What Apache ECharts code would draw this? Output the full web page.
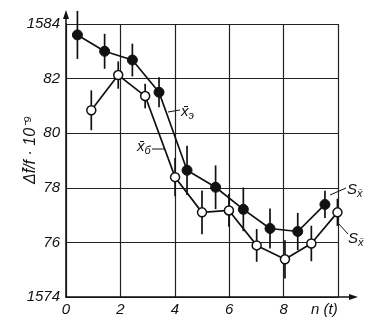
<!DOCTYPE html>
<html><head><meta charset="utf-8">
<script src="https://cdn.jsdelivr.net/npm/echarts@6/dist/echarts.min.js"></script>
<style>html,body{margin:0;padding:0;background:#fff}#c{width:375px;height:323px}</style>
</head><body><div id="c"></div>
<script>
// x̄э (filled circles)
var xE = [0.42, 1.42, 2.44, 3.42, 4.45, 5.5, 6.52, 7.5, 8.52, 9.52];
var yE = [1583.6, 1583.0, 1582.68, 1581.5, 1578.64, 1578.02, 1577.21, 1576.51, 1576.4, 1577.39];
var errE = [0.88, 0.64, 0.6, 0.55, 0.9, 0.8, 0.8, 0.73, 0.68, 0.5];
// x̄б (open circles)
var xB = [0.93, 1.92, 2.91, 4.01, 5.0, 5.99, 7.01, 8.05, 9.02, 9.98];
var yB = [1580.84, 1582.13, 1581.36, 1578.39, 1577.1, 1577.17, 1575.89, 1575.38, 1575.96, 1577.1];
var errB = [0.73, 0.5, 0.45, 0.7, 0.8, 0.6, 0.6, 0.7, 0.65, 0.5];
var yTicks = ['1574', '76', '78', '80', '82', '1584'];
var xTicks = ['0', '2', '4', '6', '8', ''];

function pts(xs, ys) { return xs.map(function (x, i) { return [x, ys[i]]; }); }
function errs(xs, ys, es) { return xs.map(function (x, i) { return [x, ys[i] - es[i], ys[i] + es[i]]; }); }

var chart = echarts.init(document.getElementById('c'));
var font = 'Liberation Sans';
function errRender(params, api) {
  var p1 = api.coord([api.value(0), api.value(1)]);
  var p2 = api.coord([api.value(0), api.value(2)]);
  return { type: 'line', shape: { x1: p1[0], y1: p1[1], x2: p2[0], y2: p2[1] }, style: { stroke: '#111', lineWidth: 1.7 } };
}
chart.setOption({
  animation: false,
  grid: { left: 66, right: 37, top: 24, bottom: 26 },
  xAxis: {
    type: 'value', min: 0, max: 10, interval: 2,
    axisLine: { lineStyle: { color: '#111', width: 1.5 } },
    axisTick: { show: false },
    axisLabel: { color: '#111', fontSize: 15, fontStyle: 'italic', fontFamily: font, margin: 5,
      formatter: function (v) { return xTicks[Math.round(v / 2)]; } },
    splitLine: { show: true, lineStyle: { color: '#222', width: 1.2 } }
  },
  yAxis: {
    type: 'value', min: 1574, max: 1584, interval: 2,
    axisLine: { show: true, lineStyle: { color: '#111', width: 1.5 } },
    axisTick: { show: false },
    axisLabel: { color: '#111', fontSize: 15, fontStyle: 'italic', fontFamily: font, margin: 6,
      formatter: function (v) { return yTicks[Math.round((v - 1574) / 2)]; } },
    splitLine: { show: true, lineStyle: { color: '#222', width: 1.2 } }
  },
  series: [
    { type: 'custom', renderItem: errRender, data: errs(xE, yE, errE), z: 1 },
    { type: 'custom', renderItem: errRender, data: errs(xB, yB, errB), z: 1 },
    { type: 'line', data: pts(xE, yE), symbol: 'circle', symbolSize: 10,
      lineStyle: { color: '#111', width: 1.7 }, itemStyle: { color: '#111', borderColor: '#111', borderWidth: 1 }, z: 3 },
    { type: 'line', data: pts(xB, yB), symbol: 'circle', symbolSize: 9,
      lineStyle: { color: '#111', width: 1.7 }, itemStyle: { color: '#fff', borderColor: '#111', borderWidth: 1.5 }, z: 3 }
  ],
  graphic: [
    // axis extensions with arrows
    { type: 'line', shape: { x1: 66, y1: 24, x2: 66, y2: 14 }, style: { stroke: '#111', lineWidth: 1.5 } },
    { type: 'polygon', shape: { points: [[66, 10], [63, 19], [69, 19]] }, style: { fill: '#111' } },
    { type: 'line', shape: { x1: 338, y1: 297, x2: 350, y2: 297 }, style: { stroke: '#111', lineWidth: 1.5 } },
    { type: 'polygon', shape: { points: [[358, 297], [349, 294], [349, 300]] }, style: { fill: '#111' } },
    // x axis name
    { type: 'text', x: 311, y: 302, style: { text: 'n (t)', font: 'italic 15px ' + font, fill: '#111' } },
    // y axis title
    { type: 'text', x: 23, y: 184, rotation: Math.PI / 2,
      style: { text: 'Δf̄/f · 10⁻⁹', font: 'italic 16px ' + font, fill: '#111' } },
    // labels with leaders
    { type: 'line', shape: { x1: 168, y1: 112, x2: 180, y2: 110 }, style: { stroke: '#111', lineWidth: 1 } },
    { type: 'text', x: 181, y: 102, style: { text: '{a|x̄}{s|э}', rich: { a: { font: 'italic 15px ' + font, fill: '#111' }, s: { font: 'italic 11px ' + font, fill: '#111', padding: [8, 0, 0, 0] } } } },
    { type: 'line', shape: { x1: 152, y1: 149, x2: 165, y2: 149 }, style: { stroke: '#111', lineWidth: 1 } },
    { type: 'text', x: 137, y: 137, style: { text: '{a|x̄}{s|б}', rich: { a: { font: 'italic 15px ' + font, fill: '#111' }, s: { font: 'italic 11px ' + font, fill: '#111', padding: [8, 0, 0, 0] } } } },
    { type: 'line', shape: { x1: 330, y1: 195, x2: 346, y2: 188 }, style: { stroke: '#111', lineWidth: 1 } },
    { type: 'text', x: 347, y: 180, style: { text: '{a|S}{s|x̄}', rich: { a: { font: 'italic 15px ' + font, fill: '#111' }, s: { font: 'italic 11px ' + font, fill: '#111', padding: [8, 0, 0, 0] } } } },
    { type: 'line', shape: { x1: 339, y1: 224, x2: 348, y2: 234 }, style: { stroke: '#111', lineWidth: 1 } },
    { type: 'text', x: 348, y: 229, style: { text: '{a|S}{s|x̄}', rich: { a: { font: 'italic 15px ' + font, fill: '#111' }, s: { font: 'italic 11px ' + font, fill: '#111', padding: [8, 0, 0, 0] } } } }
  ]
});
</script></body></html>
